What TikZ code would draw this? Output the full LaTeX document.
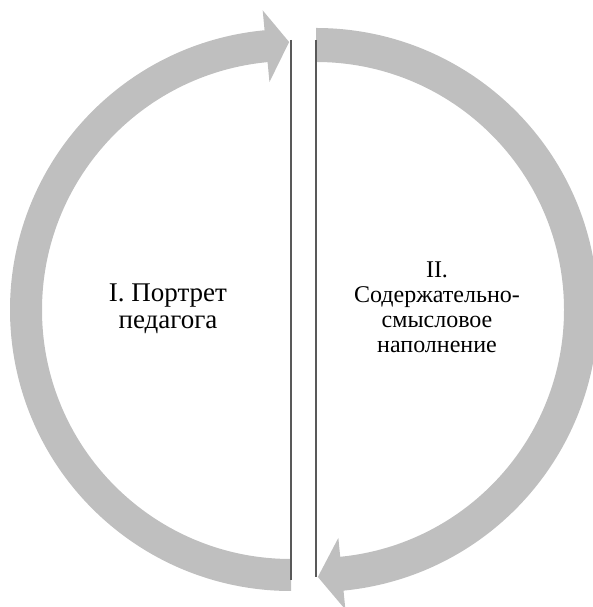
\documentclass[tikz,border=0pt]{standalone}
\usepackage{fontspec}
\setmainfont{Liberation Serif}
\begin{document}
\begin{tikzpicture}[x=1pt, y=1pt,
          arcband/.style = {fill=black!25},
          divider/.style = {draw=black!65, line width=2pt},
          caption/.style = {align=center, inner sep=0pt, text=black}]
  \useasboundingbox (0,0) rectangle (593,607);
  \begin{scope}[shift={(291,297)}]
    \fill[arcband] (270:249) arc[start angle=270, end angle=95.4, radius=249]
          -- (95.4:229) -- (90.4:268) -- (95.4:301) -- (95.4:281)
          arc[start angle=95.4, end angle=270, radius=281] -- cycle;
  \end{scope}
  \begin{scope}[shift={(316,297)}]
    \fill[arcband] (90:248) arc[start angle=90, end angle=-84.4, radius=248]
          -- (-84.4:229) -- (-89.6:267) -- (-84.4:301) -- (-84.4:282)
          arc[start angle=-84.4, end angle=90, radius=282] -- cycle;
  \end{scope}
  \coordinate (lefttop) at (291,567);
  \coordinate (leftbot) at (291,27);
  \coordinate (righttop) at (316,567);
  \coordinate (rightbot) at (316,30);
  \draw[divider] (lefttop) -- (leftbot);
  \draw[divider] (righttop) -- (rightbot);
  \node[caption, font=\fontsize{27}{27}\selectfont] (portrait) at (168,298)
       {I. Портрет\\педагога};
  \node[caption, font=\fontsize{24}{25}\selectfont] (content) at (437,299.5)
       {II.\\Содержательно-\\смысловое\\наполнение};
\end{tikzpicture}
\end{document}
